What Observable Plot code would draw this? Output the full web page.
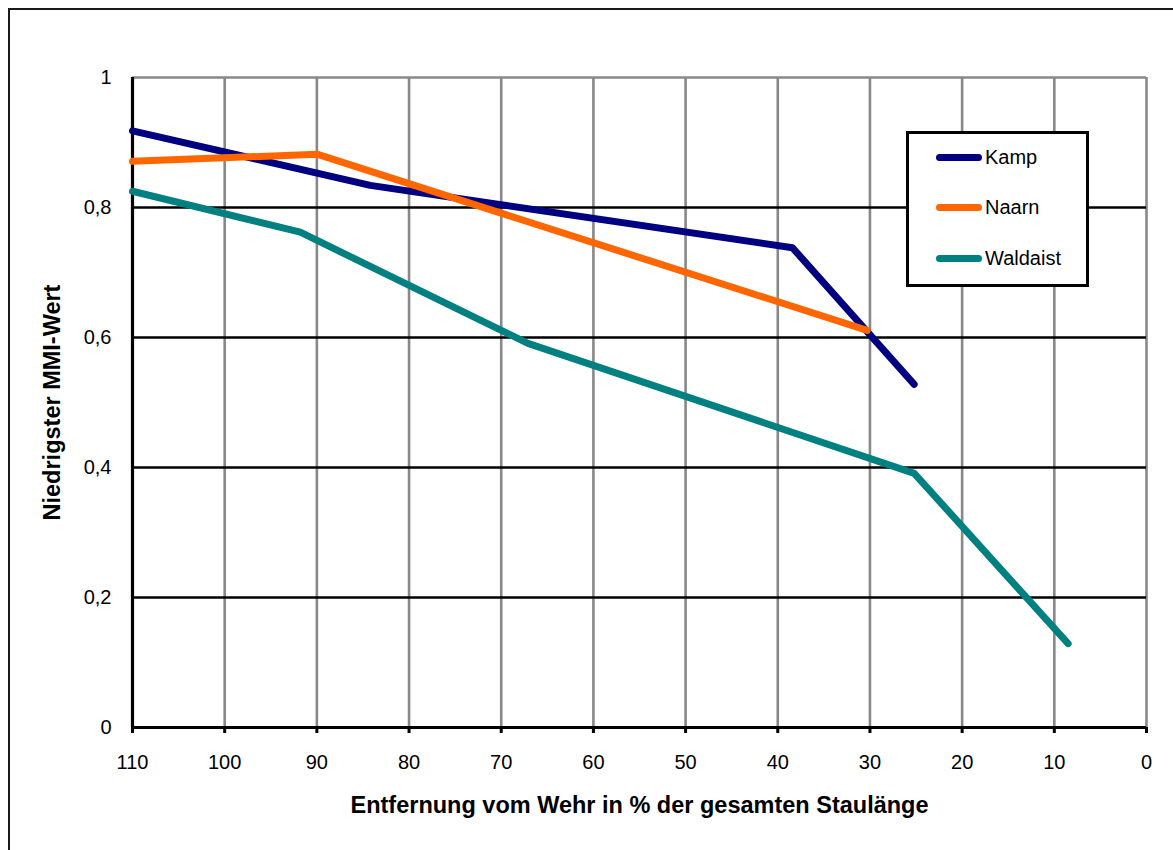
<!DOCTYPE html>
<html>
<head>
<meta charset="utf-8">
<script src="https://cdn.jsdelivr.net/npm/d3@7"></script>
<script src="https://cdn.jsdelivr.net/npm/@observablehq/plot@0.6"></script>
<style>
  html, body { margin: 0; padding: 0; background: #fff; overflow: hidden; }
  body { font-family: Arial, "Liberation Sans", sans-serif; }
  #wrap { position: relative; width: 1173px; height: 850px; overflow: hidden; }
  #border { position: absolute; left: 8px; top: 8px; width: 1200px; height: 900px;
            border: 2.5px solid #1a1a1a; box-sizing: border-box; }
  #chart { position: absolute; left: 0; top: 0; }
  #chart svg text { font-family: Arial, "Liberation Sans", sans-serif; fill: #000; }
  #chart svg [aria-label="x-axis tick label"] text,
  #chart svg [aria-label="y-axis tick label"] text { font-size: 20px; }
  #chart svg [aria-label="x-axis label"] text,
  #chart svg [aria-label="y-axis label"] text { font-weight: bold; font-size: 23.5px; }
  #legend { position: absolute; left: 906px; top: 131px; width: 183px; height: 156px;
            border: 3px solid #000; box-sizing: border-box; background: #fff; }
  .row { position: absolute; left: 27px; display: flex; align-items: center;
         font-size: 20px; line-height: 23px; }
  .swatch { width: 46px; height: 7px; border-radius: 4px; margin-right: 3px; }
</style>
</head>
<body>
<div id="wrap">
  <div id="border"></div>
  <div id="chart"></div>
  <div id="legend"></div>
</div>
<script>
// Lowest MMI value along the impoundment, by river
const seriesNames = ["Kamp", "Naarn", "Waldaist"];
const seriesColors = ["#000080", "#FF6600", "#008080"];

const kampX = [110, 84.2, 38.4, 25.2];
const kampY = [0.918, 0.834, 0.738, 0.528];

const naarnX = [110, 90, 30.3];
const naarnY = [0.871, 0.882, 0.611];

const waldaistX = [110, 91.8, 67.1, 25.2, 8.5];
const waldaistY = [0.825, 0.762, 0.591, 0.391, 0.129];

const xTicks = [110, 100, 90, 80, 70, 60, 50, 40, 30, 20, 10, 0];
const yTicks = [0, 0.2, 0.4, 0.6, 0.8, 1];

const xTitle = "Entfernung vom Wehr in % der gesamten Staulänge";
const yTitle = "Niedrigster MMI-Wert";

const rows = [];
[[kampX, kampY], [naarnX, naarnY], [waldaistX, waldaistY]].forEach(([xs, ys], i) => {
  xs.forEach((x, j) => rows.push({river: seriesNames[i], x, y: ys[j]}));
});

const fmtY = d => d === 0 ? "0" : d === 1 ? "1" : d.toFixed(1).replace(".", ",");

const chart = Plot.plot({
  width: 1173,
  height: 850,
  marginLeft: 132,
  marginRight: 27,
  marginTop: 77,
  marginBottom: 123,
  style: {background: "transparent", fontFamily: "Arial, 'Liberation Sans', sans-serif", fontSize: "20px"},
  x: {domain: [110, 0], ticks: xTicks},
  y: {domain: [0, 1], ticks: yTicks},
  color: {domain: seriesNames, range: seriesColors},
  marks: [
    // vertical grid (grey) incl. right border of the plot area
    Plot.ruleX(xTicks.filter(d => d !== 110), {stroke: "#888", strokeWidth: 2.6}),
    // top border of the plot area
    Plot.ruleY([1], {stroke: "#888", strokeWidth: 2.6}),
    // horizontal grid (black)
    Plot.ruleY(yTicks.filter(d => d > 0 && d < 1), {stroke: "#000", strokeWidth: 2.6}),
    // axis lines
    Plot.ruleX([110], {stroke: "#000", strokeWidth: 3.2}),
    Plot.ruleY([0], {stroke: "#000", strokeWidth: 3.2}),
    Plot.axisX({
      ticks: xTicks, tickSize: 6, tickPadding: 21,
      stroke: "#000", strokeWidth: 3, strokeOpacity: 1,
      tickFormat: d => String(d),
      label: xTitle, labelAnchor: "center", labelOffset: 85, labelArrow: "none"
    }),
    Plot.axisY({
      ticks: yTicks, tickSize: 0, tickPadding: 21,
      tickFormat: fmtY,
      label: yTitle, labelAnchor: "center", labelOffset: 89, labelArrow: "none"
    }),
    Plot.line(rows, {
      x: "x", y: "y", z: "river", stroke: "river",
      strokeWidth: 7, strokeLinecap: "round", strokeLinejoin: "round"
    })
  ]
});
document.getElementById("chart").appendChild(chart);

// legend
const legend = document.getElementById("legend");
const rowTops = [12, 62, 113];
seriesNames.forEach((name, i) => {
  const r = document.createElement("div");
  r.className = "row";
  r.style.top = rowTops[i] + "px";
  const sw = document.createElement("div");
  sw.className = "swatch";
  sw.style.background = seriesColors[i];
  const t = document.createElement("span");
  t.textContent = name;
  r.appendChild(sw);
  r.appendChild(t);
  legend.appendChild(r);
});
</script>
</body>
</html>
